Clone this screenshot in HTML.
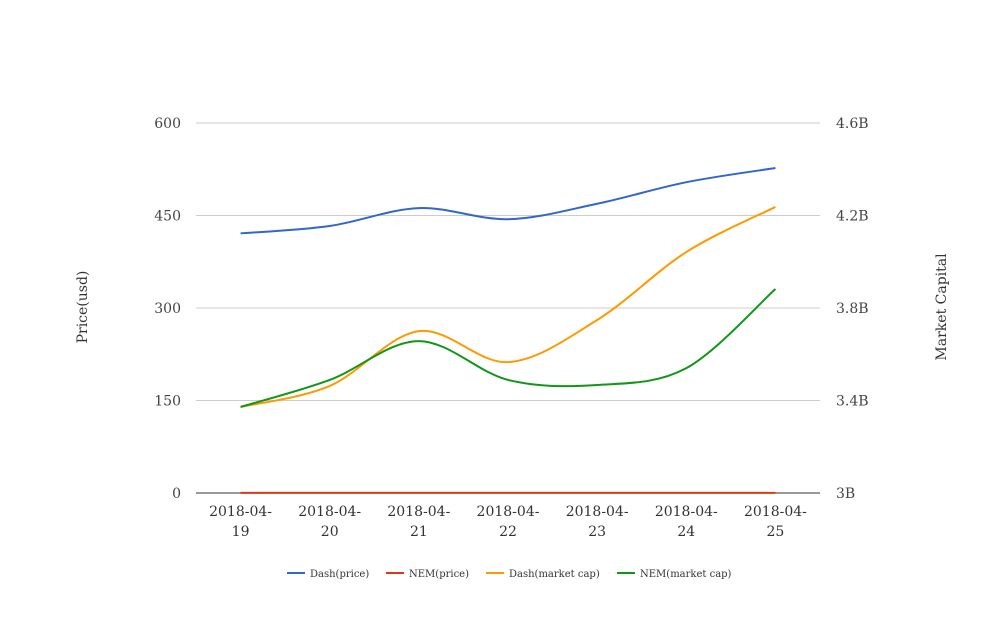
<!DOCTYPE html>
<html><head><meta charset="utf-8"><style>
body{margin:0;background:#fff}
svg{font-family:"DejaVu Serif","Liberation Serif",serif}
</style></head><body>
<svg width="1008" height="616">
<g id="grid"></g>
<g id="series"></g>
<g id="axes"></g>
<text transform="translate(87,307) rotate(-90)" text-anchor="middle" font-size="14" fill="#333">Price(usd)</text>
<text transform="translate(946,307) rotate(-90)" text-anchor="middle" font-size="14" fill="#333">Market Capital</text>
<g id="legend"></g>
</svg>
<script>
const categories=["2018-04-19","2018-04-20","2018-04-21","2018-04-22","2018-04-23","2018-04-24","2018-04-25"];
const dashPrice=[421,433,462,444,469,504,527];
const nemPrice=[0.3,0.3,0.3,0.3,0.3,0.3,0.3];
const dashCap=[3.372,3.463,3.70,3.566,3.748,4.042,4.237];
const nemCap=[3.372,3.489,3.657,3.489,3.467,3.54,3.882];
const leftTicks=[0,150,300,450,600];
const rightTicks=[3,3.4,3.8,4.2,4.6];
const NS="http://www.w3.org/2000/svg";
const X0=196,X1=820,Y0=493,Y1=123;
const xs=i=>X0+(X1-X0)/categories.length*(i+0.5);
const yL=v=>Y0-(v/600)*(Y0-Y1);
const yR=v=>Y0-((v-3)/1.6)*(Y0-Y1);
function mk(t,a,p){const e=document.createElementNS(NS,t);for(const k in a)e.setAttribute(k,a[k]);p.appendChild(e);return e;}
const grid=document.getElementById('grid'),axes=document.getElementById('axes'),ser=document.getElementById('series'),leg=document.getElementById('legend');
leftTicks.forEach((v,i)=>{
 const l=mk('line',{x1:X0,x2:X1,y1:yL(v),y2:yL(v),stroke:v===0?'#333':'#ccc','stroke-width':1},grid);
 
 
 const t=mk('text',{x:181,y:yL(v)+5,'text-anchor':'end','font-size':14,fill:'#444'},axes);t.textContent=v;
 
 
 const r=mk('text',{x:836,y:yR(rightTicks[i])+5,'font-size':14,fill:'#444'},axes);r.textContent=rightTicks[i]+'B';
 
 
});
categories.forEach((c,i)=>{
 const t=mk('text',{x:xs(i),y:516,'text-anchor':'middle','font-size':14,fill:'#333'},axes);
 
 
 mk('tspan',{x:xs(i),dy:0},t).textContent=c.slice(0,8);
 mk('tspan',{x:xs(i),dy:20},t).textContent=c.slice(8);
});
function path(vals,yf){
 const p=vals.map((v,i)=>[xs(i),yf(v)]);let d='M'+p[0][0]+','+p[0][1];
 for(let i=0;i<p.length-1;i++){const a=p[i-1]||p[i],b=p[i],c=p[i+1],e=p[i+2]||c;
  d+=` C${b[0]+(c[0]-a[0])/6},${b[1]+(c[1]-a[1])/6} ${c[0]-(e[0]-b[0])/6},${c[1]-(e[1]-b[1])/6} ${c[0]},${c[1]}`;}
 return d;}
const S=[["Dash(price)",dashPrice,yL,"#3366cc",287],["NEM(price)",nemPrice,yL,"#dc3912",386],["Dash(market cap)",dashCap,yR,"#ff9900",486],["NEM(market cap)",nemCap,yR,"#109618",617]];
S.forEach(s=>{
 const p=mk('path',{d:path(s[1],s[2]),fill:'none',stroke:s[3],'stroke-width':2},ser);
 
 
 const g=mk('g',{},leg);
 
 
 mk('line',{x1:s[4],x2:s[4]+18,y1:573,y2:573,stroke:s[3],'stroke-width':2},g);
 mk('text',{x:s[4]+23,y:577,'font-size':10,fill:'#333'},g).textContent=s[0];
});
</script>
</body></html>
